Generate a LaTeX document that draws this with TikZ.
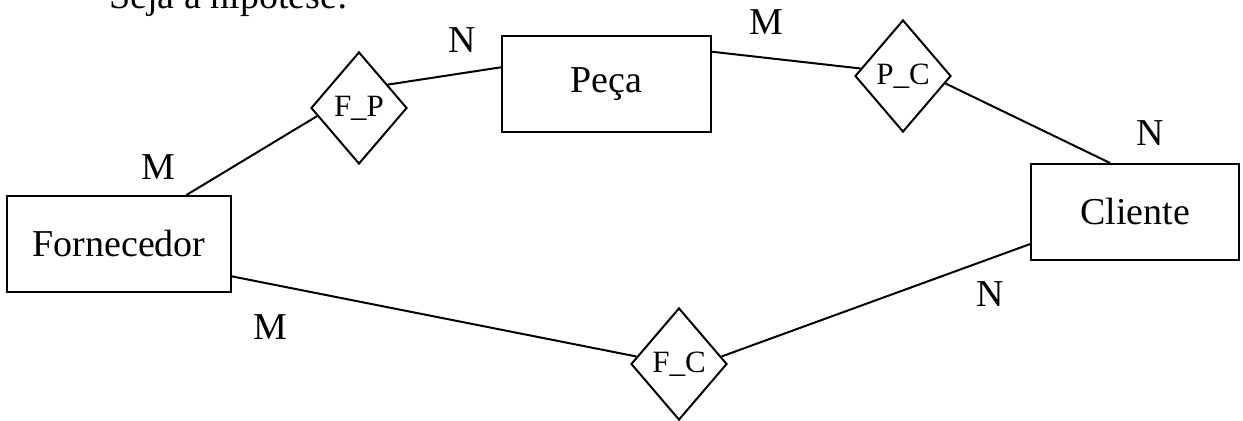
\documentclass[tikz,border=0pt]{standalone}
\usepackage{fontspec}
\setmainfont{Liberation Serif}
\usepackage{tikz}
\usetikzlibrary{shapes.geometric}
\tikzset{%
  every entity/.style={
    rectangle,
    draw,
    line width=1pt,
    inner sep=0pt,
    minimum height=48pt,
    font=\fontsize{19}{22}\selectfont
  },
  every relation/.style={
    diamond,
    draw,
    line width=1pt,
    inner sep=0pt,
    minimum width=48pt,
    minimum height=56pt,
    font=\fontsize{15.5}{18}\selectfont
  },
  card/.style={
    font=\fontsize{19}{22}\selectfont,
    inner sep=0pt
  },
}
\begin{document}
\begin{tikzpicture}[x=0.5pt, y=-0.5pt]

    \useasboundingbox (0,0) rectangle (1243,421);

    \node [anchor=base west, card] (hint) at (109,9) {Seja a hipótese:};

    \node [every entity, minimum width=112pt] (forn) at (119,244) {Fornecedor};
    \node [every entity, minimum width=104.5pt] (peca) at (606.5,84) {Peça};
    \node [every entity, minimum width=104pt] (cliente) at (1135,212) {Cliente};

    \node [every relation] (fp) at (359,108) {F\_P};
    \node [every relation] (pc) at (903,76) {P\_C};
    \node [every relation] (fc) at (679,364) {F\_C};

    \foreach \a/\b in {forn.36/fp.191, fp.39/peca.171, peca.17/pc.170,
                       pc.350/cliente.117, forn.344/fc.170, fc.10/cliente.197}
        \draw [line width=1pt] (\a) -- (\b);

    \foreach \t/\x/\y [count=\i] in {M/158/167, N/462/40, M/766/22,
                                     N/1150/133, M/270/327, N/990/294}
        \node [card] (card-\i) at (\x,\y) {\t};

\end{tikzpicture}
\end{document}
